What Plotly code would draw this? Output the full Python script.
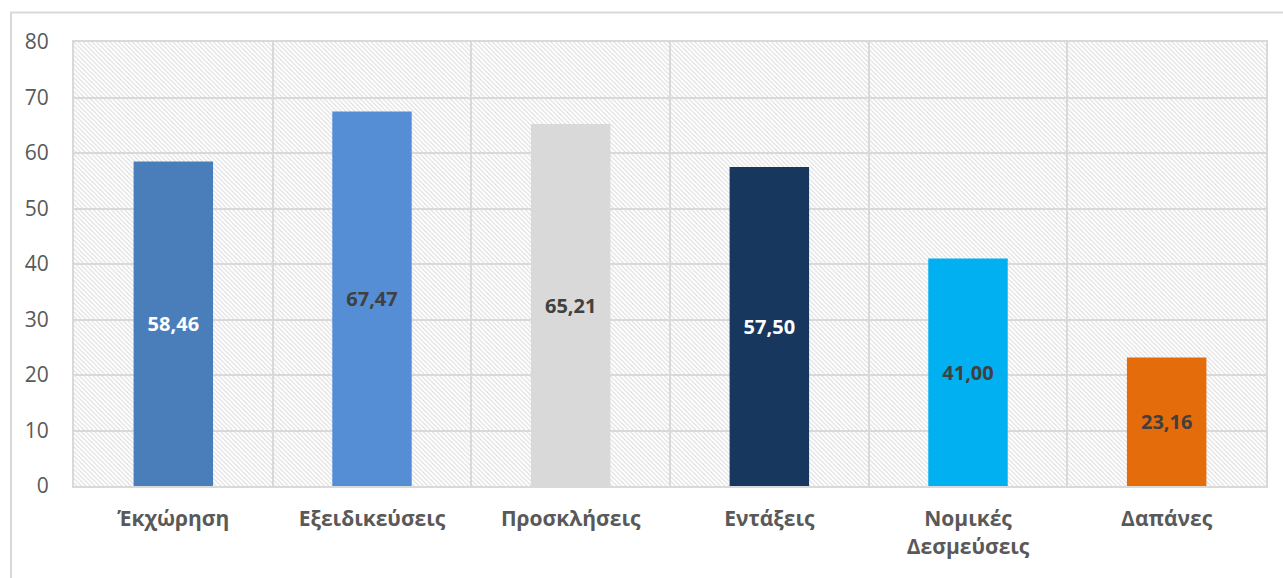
import base64
import plotly.graph_objects as go

categories = ["Έκχώρηση", "Εξειδικεύσεις", "Προσκλήσεις", "Εντάξεις", "Νομικές<br>Δεσμεύσεις", "Δαπάνες"]
values = [58.46, 67.47, 65.21, 57.50, 41.00, 23.16]
labels = ["58,46", "67,47", "65,21", "57,50", "41,00", "23,16"]
bar_colors = ["#4a7ebb", "#558ed5", "#d9d9d9", "#17375e", "#00b0f0", "#e46c0a"]
label_colors = ["#ffffff", "#404040", "#404040", "#ffffff", "#404040", "#404040"]
y_ticks = [0, 10, 20, 30, 40, 50, 60, 70, 80]

W, H = 1283, 578
ml, mr, mt, mb = 74, 17, 42, 92
pw, ph = W - ml - mr, H - mt - mb

svg = (
    f'<svg xmlns="http://www.w3.org/2000/svg" width="{pw}" height="{ph}" '
    f'viewBox="0 0 {pw} {ph}" preserveAspectRatio="none">'
    '<defs><pattern id="p" width="4.5" height="4.5" patternUnits="userSpaceOnUse">'
    '<path d="M-1,-1 L5.5,5.5 M3.5,-1 L5.5,1 M-1,3.5 L1,5.5" stroke="#d9d9d9" stroke-width="1"/>'
    '</pattern></defs>'
    f'<rect width="{pw}" height="{ph}" fill="#ffffff"/>'
    f'<rect width="{pw}" height="{ph}" fill="url(#p)"/></svg>'
)
src = "data:image/svg+xml;base64," + base64.b64encode(svg.encode()).decode()

fig = go.Figure(
    go.Bar(
        x=categories,
        y=values,
        text=labels,
        textposition="inside",
        insidetextanchor="middle",
        textangle=0,
        marker=dict(color=bar_colors, line=dict(width=0)),
        textfont=dict(family="Open Sans", size=20, color=label_colors, weight="bold"),
        width=0.4,
        hoverinfo="skip",
    )
)

fig.add_layout_image(
    dict(source=src, xref="paper", yref="paper", x=0, y=1, sizex=1, sizey=1,
         xanchor="left", yanchor="top", sizing="stretch", layer="below")
)

fig.add_shape(
    type="rect", xref="paper", yref="paper",
    x0=(11 - ml) / pw, x1=(1290 - ml) / pw,
    y0=(H - mb - 590) / ph, y1=(H - mb - 12.5) / ph,
    line=dict(color="#d9d9d9", width=2), fillcolor="rgba(0,0,0,0)", layer="below",
)

fig.update_layout(
    width=W, height=H,
    margin=dict(l=ml, r=mr, t=mt, b=mb),
    paper_bgcolor="#ffffff",
    plot_bgcolor="rgba(0,0,0,0)",
    showlegend=False,
    font=dict(family="Open Sans", color="#595959"),
)
fig.update_xaxes(
    type="category",
    tickson="boundaries",
    showgrid=True, gridcolor="#d9d9d9", gridwidth=2,
    showline=True, linecolor="#d9d9d9", linewidth=2, mirror=True,
    ticks="", ticklen=0, ticklabelstandoff=13,
    tickfont=dict(family="Open Sans", size=21, color="#595959", weight="bold"),
    fixedrange=True,
)
fig.update_yaxes(
    range=[0, 80], tickvals=y_ticks,
    showgrid=True, gridcolor="#d9d9d9", gridwidth=2,
    showline=True, linecolor="#d9d9d9", linewidth=2, mirror=True,
    zeroline=False, ticks="", ticklabelstandoff=19,
    tickfont=dict(family="Open Sans", size=21, color="#595959"),
    fixedrange=True,
)

fig.write_html(
    "out.html",
    config={"displayModeBar": False},
    post_script="document.body.style.margin='0';document.body.style.overflow='hidden';",
)
